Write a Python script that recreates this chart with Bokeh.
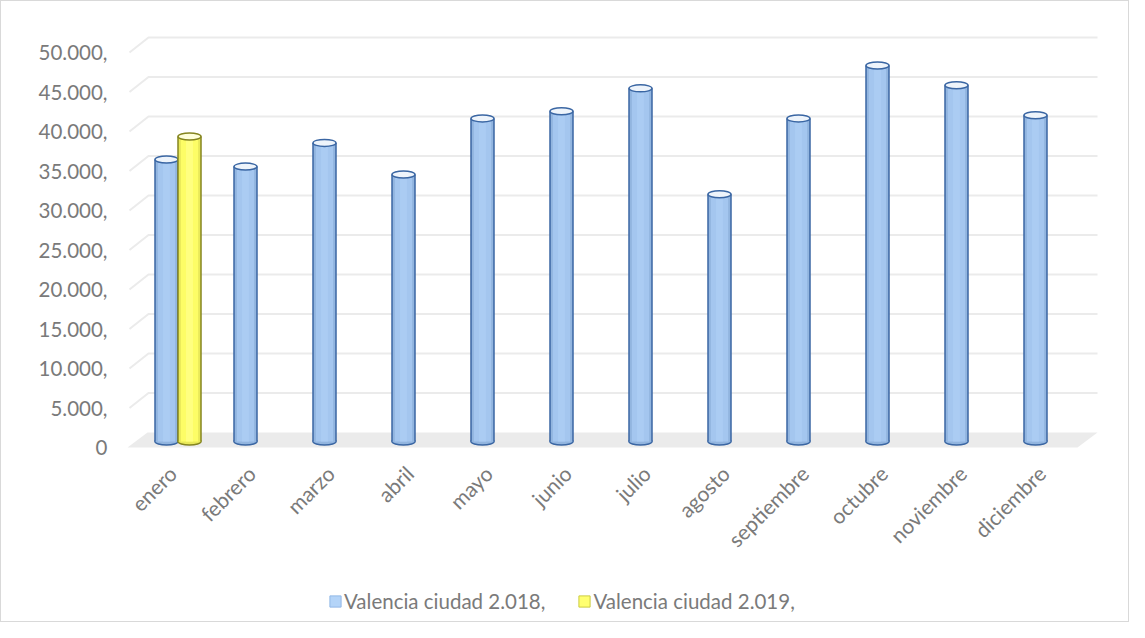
from bokeh.plotting import figure
from bokeh.layouts import column
from bokeh.models import (Range1d, FixedTicker, ColumnDataSource, Legend, LegendItem)
from bokeh.embed import file_html
from bokeh.resources import INLINE
import math

# ---------------- data ----------------
months = ["enero", "febrero", "marzo", "abril", "mayo", "junio", "julio",
          "agosto", "septiembre", "octubre", "noviembre", "diciembre"]
valencia_2018 = [35700, 34800, 37800, 33800, 40900, 41800, 44700,
                 31300, 40900, 47600, 45100, 41300]
valencia_2019 = [38600, None, None, None, None, None, None,
                 None, None, None, None, None]
y_ticks = [0, 5000, 10000, 15000, 20000, 25000, 30000, 35000, 40000, 45000, 50000]
y_tick_labels = ["0", "5.000,", "10.000,", "15.000,", "20.000,", "25.000,",
                 "30.000,", "35.000,", "40.000,", "45.000,", "50.000,"]
series_names = ["Valencia ciudad 2.018,", "Valencia ciudad 2.019,"]

# ---------------- geometry (pixel-derived helpers) ----------------
PX_X = 79.0          # px per category
PX_Y = 0.0079        # px per unit value
X0_PAGE = 185.5      # page x of first category centre
Y0_PAGE = 455.0      # page y of value 0 (front plane)

def xd(px):
    return (px - X0_PAGE) / PX_X

def yd(py):
    return (Y0_PAGE - py) / PX_Y

FONT = "Lato"
TXT = "#7a7a7a"

W, H_MAIN, H_LEG = 1127, 578, 42
p = figure(width=W, height=H_MAIN, output_backend="svg", toolbar_location=None,
           x_range=Range1d(xd(135), xd(1110)), y_range=Range1d(yd(465), yd(30)),
           min_border_left=126, min_border_right=26, min_border_top=21,
           min_border_bottom=H_MAIN - 456)
p.outline_line_color = None
p.xgrid.visible = False
p.ygrid.visible = False
p.background_fill_color = "white"
p.border_fill_color = "white"

# y axis
p.yaxis.ticker = FixedTicker(ticks=y_ticks)
p.yaxis.major_label_overrides = {t: l for t, l in zip(y_ticks, y_tick_labels)}
p.yaxis.axis_line_color = None
p.yaxis.major_tick_line_color = None
p.yaxis.minor_tick_line_color = None
p.yaxis.major_tick_out = 0
p.yaxis.major_tick_in = 0
p.yaxis.major_label_standoff = 20
p.yaxis.major_label_text_font = FONT
p.yaxis.major_label_text_font_size = "20.5px"
p.yaxis.major_label_text_color = TXT

# x axis
xt = list(range(len(months)))
p.xaxis.ticker = FixedTicker(ticks=[i - 0.07 for i in xt])
p.xaxis.major_label_overrides = {i - 0.07: m for i, m in zip(xt, months)}
p.xaxis.major_label_orientation = math.pi / 4
p.xaxis.axis_line_color = None
p.xaxis.major_tick_line_color = None
p.xaxis.minor_tick_line_color = None
p.xaxis.major_tick_out = 0
p.xaxis.major_tick_in = 0
p.xaxis.major_label_standoff = 12
p.xaxis.major_label_text_font = FONT
p.xaxis.major_label_text_font_size = "21px"
p.xaxis.major_label_text_color = TXT

# floor
p.patch([xd(135), xd(1085), xd(1105), xd(155)],
        [yd(455), yd(455), yd(440), yd(440)],
        fill_color="#ebebeb", line_color=None)

# back-wall gridlines with 3D diagonal
dy_back = 15 / PX_Y
gx, gy = [], []
for t in y_ticks[1:]:
    gx.append([xd(137), xd(156), xd(1105)])
    gy.append([t, t + dy_back, t + dy_back])
p.multi_line(gx, gy, line_color="#ebebeb", line_width=2)

# cylinders
base = 6 / PX_Y
bw = 23 / PX_X
off = 11.5 / PX_X

def cylinders(xs, vals, body, edge, mid, line, top):
    src = ColumnDataSource(dict(
        x=xs, top=[base + v for v in vals], bottom=[base] * len(xs),
        xl=[x - bw / 2 for x in xs], xr=[x + bw / 2 for x in xs]))
    p.ellipse(x="x", y="bottom", width=bw, height=7, height_units="screen",
              fill_color=edge, line_color=line, line_width=1.5, source=src)
    p.vbar(x="x", top="top", bottom="bottom", width=bw, fill_color=edge,
           line_color=None, source=src)
    p.vbar(x="x", top="top", bottom="bottom", width=bw * 0.75, fill_color=body,
           line_color=None, source=src)
    p.vbar(x="x", top="top", bottom="bottom", width=bw * 0.3, fill_color=mid,
           line_color=None, source=src)
    p.segment(x0="xl", y0="bottom", x1="xl", y1="top", line_color=line,
              line_width=1.5, source=src)
    p.segment(x0="xr", y0="bottom", x1="xr", y1="top", line_color=line,
              line_width=1.5, source=src)
    p.ellipse(x="x", y="top", width=bw, height=7, height_units="screen",
              fill_color=top, line_color=line, line_width=1.5, source=src)

x18 = [i - off for i in xt]
cylinders(x18, valencia_2018, "#a4c6ef", "#92b5df", "#abccf3", "#3a66a3", "#eef4fb")
x19 = [i + off for i, v in zip(xt, valencia_2019) if v is not None]
v19 = [v for v in valencia_2019 if v is not None]
cylinders(x19, v19, "#fdfd66", "#e9e95a", "#ffff80", "#85851f", "#ffffd8")

# legend strip (separate small figure below the chart)
pl = figure(width=W, height=H_LEG, output_backend="svg", toolbar_location=None,
            x_range=Range1d(0, 1), y_range=Range1d(0, 1),
            x_axis_type=None, y_axis_type=None, min_border=0)
pl.outline_line_color = None
pl.xgrid.visible = False
pl.ygrid.visible = False
r18 = pl.vbar(x=[-5], top=[-5], bottom=[-6], width=0.1, fill_color="#b4d4f8",
              line_color="#93b8e6", line_width=1)
r19 = pl.vbar(x=[-5], top=[-5], bottom=[-6], width=0.1, fill_color="#ffff70",
              line_color="#cccc44", line_width=1)
legend = Legend(items=[LegendItem(label=series_names[0], renderers=[r18]),
                       LegendItem(label=series_names[1], renderers=[r19])],
                location=(201, 8), orientation="horizontal",
                glyph_width=14, glyph_height=14, label_standoff=2, spacing=32,
                padding=0, margin=0, border_line_color=None,
                background_fill_alpha=0,
                label_text_font=FONT, label_text_font_size="20.5px",
                label_text_color=TXT)
pl.add_layout(legend, "center")

lay = column(p, pl, spacing=0)
lay.styles = {"border": "1px solid #d9d9d9"}

open("out.html", "w").write(file_html(lay, INLINE))
